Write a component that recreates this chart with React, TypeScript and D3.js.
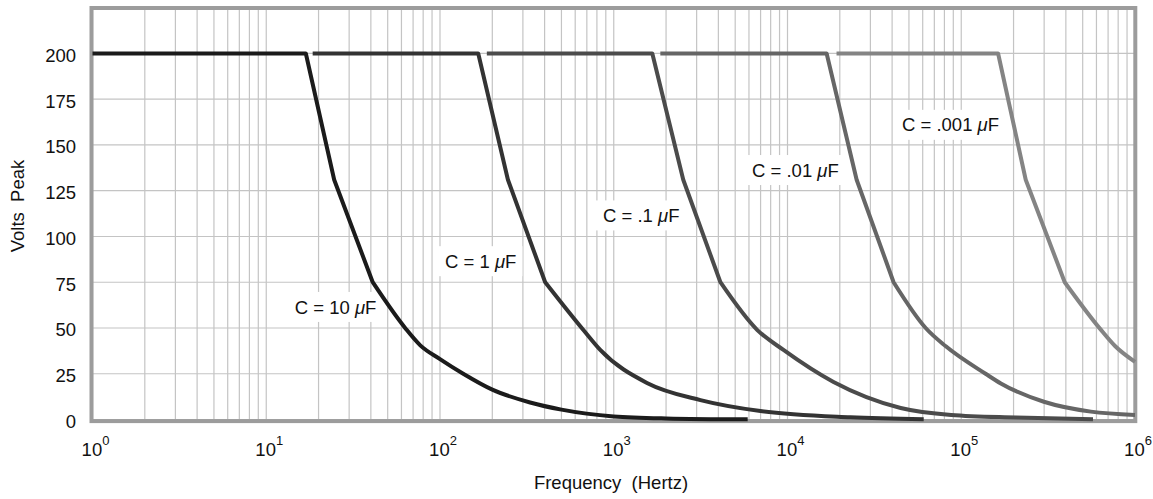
import React, { useMemo } from "react";
import * as d3 from "d3";

const W = 1153;
const H = 499;

// ---- data ----
const seriesLabels = ["C = 10 ", "C = 1 ", "C = .1 ", "C = .01 ", "C = .001 "];

const freq10uF = [1, 16.9, 24.6, 41, 63, 77, 100, 136, 200, 330, 500, 1000, 2000, 5900];
const volts10uF = [200, 200, 131, 75, 50, 40.5, 33, 25, 16.3, 9.3, 5.4, 1.7, 0.6, 0.1];

const freq1uF = [18.5, 166, 246, 403, 667, 836, 1553, 3155, 6985, 23000, 60800];
const volts1uF = [200, 200, 131, 75, 49, 38, 20, 10.6, 4.6, 1.2, 0.2];

const freq01uF = [186, 1667, 2512, 4110, 6683, 9480, 18400, 44800, 87500, 207000, 573000];
const volts01uF = [200, 200, 131, 75, 49, 38, 20.5, 6.3, 2.5, 1.1, 0.1];

const freq001uF = [1854, 16800, 25000, 40800, 62400, 81500, 138000, 169000, 299000, 557000, 1000000];
const volts001uF = [200, 200, 131, 75, 50, 40, 25, 19.7, 9.7, 4.3, 2.5];

const freq0001uF = [19150, 163000, 235000, 394000, 630000, 770000, 1000000];
const volts0001uF = [200, 200, 131, 75, 49.5, 40, 31.5];

const seriesFreqs = [freq10uF, freq1uF, freq01uF, freq001uF, freq0001uF];
const seriesVolts = [volts10uF, volts1uF, volts01uF, volts001uF, volts0001uF];

// label anchors in data units (start of text, vertical centre)
const labelFreq = [14.6, 107, 867, 6250, 45600];
const labelVolts = [61.5, 86.5, 111.5, 136.3, 161];

const yTicks = [0, 25, 50, 75, 100, 125, 150, 175, 200];
const xDecades = [0, 1, 2, 3, 4, 5, 6];

// ---- styles ----
const FONT = "'Liberation Sans', Arial, Helvetica, sans-serif";
const FS = 18.5;
const colors = ["#1b1b1b", "#333333", "#4b4b4b", "#666666", "#848484"];
const gridColor = "#c4c4c4";
const frameColor = "#9c9c9c";

export default function App() {
  const x = d3.scaleLog().domain([1, 1e6]).range([92.5, 1135]);
  const y = d3.scaleLinear().domain([0, 225]).range([419.5, 7.7]);

  const measure = useMemo(() => {
    const c = document.createElement("canvas").getContext("2d");
    return (t: string, size: number, italic = false) => {
      if (!c) return t.length * size * 0.55;
      c.font = `${italic ? "italic " : ""}${size}px 'Liberation Sans', Arial, sans-serif`;
      return c.measureText(t).width;
    };
  }, []);

  const vGrid: number[] = [];
  for (let k = 0; k < 6; k++) {
    for (let m = 1; m <= 9; m++) vGrid.push(m * Math.pow(10, k));
  }
  vGrid.push(1e6);

  const buildPath = (f: number[], v: number[]) => {
    const pts: [number, number][] = f.map((ff, i) => [x(ff), y(v[i])]);
    const nLin = 4;
    const lin = d3.line().curve(d3.curveLinear)(pts.slice(0, nLin)) || "";
    const mono = d3.line().curve(d3.curveMonotoneX)(pts.slice(nLin - 1)) || "";
    return lin + mono.replace(/^M/, "L");
  };

  const [x0, x1] = x.range();
  const [yb, yt] = y.range();

  return (
    <svg
      width={W}
      height={H}
      style={{ position: "absolute", left: 0, top: 0, background: "#fff" }}
      fontFamily={FONT}
    >
      <rect x={0} y={0} width={W} height={H} fill="#fff" />
      {/* grid */}
      <g stroke={gridColor} strokeWidth={1.2}>
        {vGrid.map((g, i) => (
          <line key={"v" + i} x1={x(g)} x2={x(g)} y1={yt} y2={yb} />
        ))}
        {yTicks.map((t) => (
          <line key={"h" + t} x1={x0} x2={x1} y1={y(t)} y2={y(t)} />
        ))}
      </g>

      {/* labels with white boxes */}
      {seriesLabels.map((lab, i) => {
        const tx = x(labelFreq[i]);
        const ty = y(labelVolts[i]);
        const w = measure(lab, FS) + measure("μ", FS, true) + measure("F", FS);
        return (
          <g key={"lab" + i}>
            <rect x={tx - 7} y={ty - 15} width={w + 13} height={30} fill="#fff" />
            <text x={tx} y={ty} dy="0.36em" fontSize={FS} fill="#111" style={{ whiteSpace: "pre" }}>
              {lab}
              <tspan fontStyle="italic">μ</tspan>
              <tspan>F</tspan>
            </text>
          </g>
        );
      })}

      {/* frame */}
      <rect
        x={x0 - 1}
        y={yt + 0.3}
        width={x1 - x0 + 1.3}
        height={yb - yt + 1.3}
        fill="none"
        stroke={frameColor}
        strokeWidth={4}
      />

      {/* curves */}
      {seriesFreqs.map((f, i) => (
        <path
          key={"c" + i}
          d={buildPath(f, seriesVolts[i])}
          fill="none"
          stroke={colors[i]}
          strokeWidth={4}
          strokeLinejoin="round"
        />
      ))}

      {/* y tick labels */}
      {yTicks.map((t) => (
        <text key={"yt" + t} x={76} y={y(t) + 8.3} fontSize={FS} textAnchor="end" fill="#111">
          {t}
        </text>
      ))}

      {/* x tick labels */}
      {xDecades.map((k) => {
        const px = x(Math.pow(10, k));
        const wb = measure("10", FS);
        const ws = measure(String(k), 13);
        const start = px + 3 - (wb + ws) / 2;
        return (
          <text key={"xt" + k} x={start} y={456} fontSize={FS} fill="#111">
            10
            <tspan fontSize={13} dy={-11}>
              {k}
            </tspan>
          </text>
        );
      })}

      {/* axis titles */}
      <text x={611} y={489} fontSize={FS} textAnchor="middle" fill="#111" style={{ whiteSpace: "pre" }}>
        {"Frequency  (Hertz)"}
      </text>
      <text
        transform={`translate(24,206) rotate(-90)`}
        fontSize={FS}
        textAnchor="middle"
        fill="#111"
        style={{ whiteSpace: "pre" }}
      >
        {"Volts  Peak"}
      </text>
    </svg>
  );
}
